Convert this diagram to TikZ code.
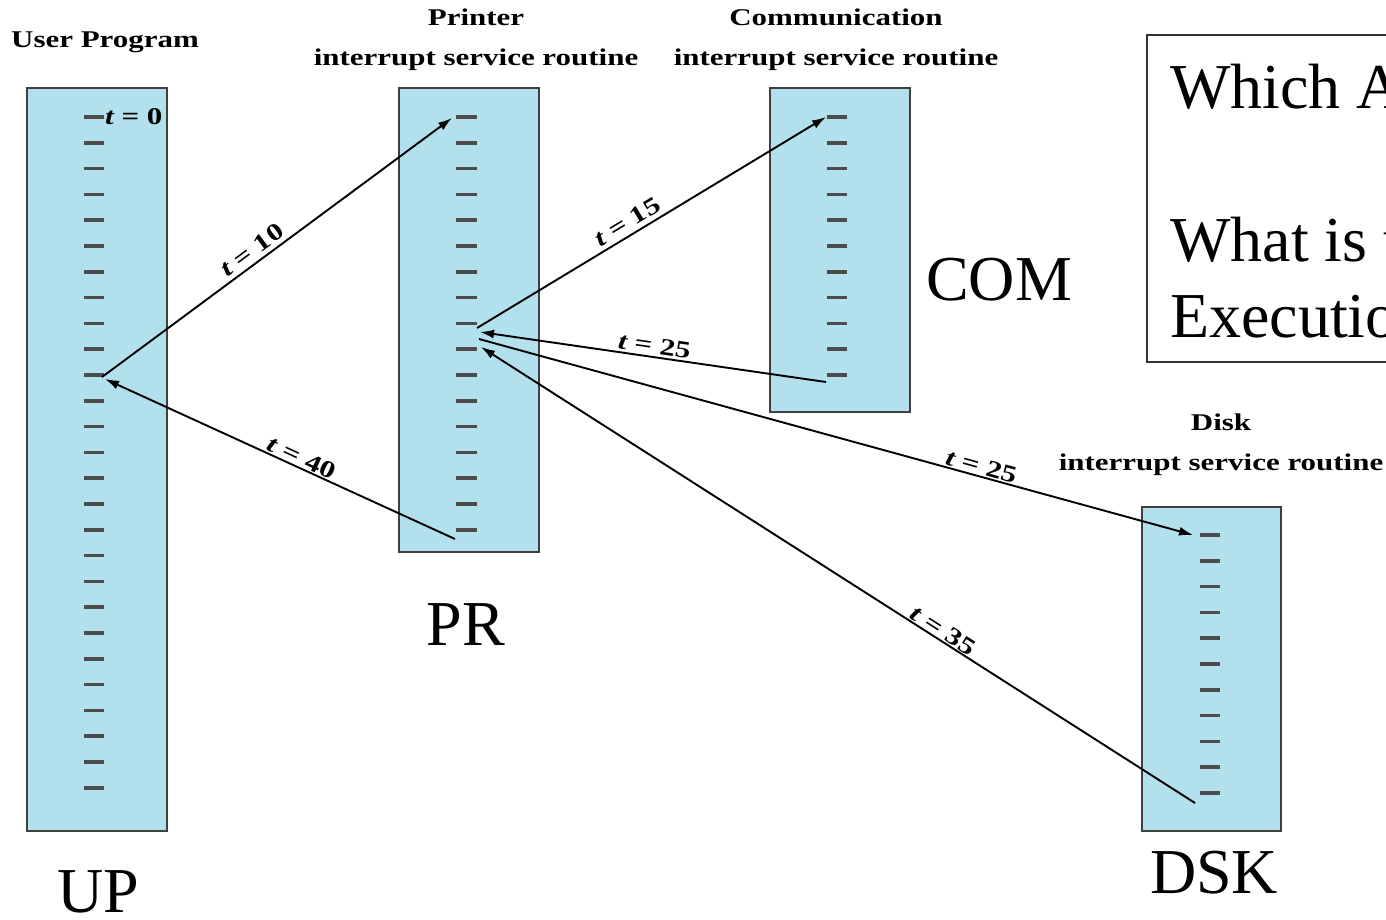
\documentclass[tikz,border=0pt]{standalone}
\usepackage{fontspec}
\setmainfont{Liberation Serif}
\newfontfamily\hdrfont[FakeStretch=1.29]{Liberation Serif}
\usetikzlibrary{arrows.meta}
\definecolor{boxblue}{RGB}{178,224,236}

\begin{document}
\begin{tikzpicture}[x=1pt,y=-1pt,
  routine/.style={draw=black!75, line width=1.8pt, fill=boxblue, anchor=north west,
    minimum width=140pt, inner sep=0, outer sep=0},
  tickmark/.style={draw=black!70, line width=3.5pt},
  flow/.style={line width=1.9pt, -{Latex[length=14pt,width=9pt]}},
  hdr/.style={font=\hdrfont\bfseries\fontsize{24}{40}\selectfont, align=center, inner sep=0},
  tlab/.style={font=\hdrfont\bfseries\fontsize{24}{26}\selectfont, sloped, above, inner sep=4pt},
  big/.style={font=\fontsize{64}{78}\selectfont, inner sep=0},
]
\useasboundingbox (0,0) rectangle (1386,919);

% the four routines
\node[routine, minimum height=743pt] (UP)  at (27,88)   {};
\node[routine, minimum height=464pt] (PR)  at (399,88)  {};
\node[routine, minimum height=324pt] (COM) at (770,88)  {};
\node[routine, minimum height=324pt, minimum width=139pt] (DSK) at (1142,507) {};

% instruction ticks
\foreach \i in {0,...,26}
  \draw[tickmark] (84,{117+25.8*\i}) -- (104,{117+25.8*\i});
\foreach \i in {0,...,16}
  \draw[tickmark] (456,{117+25.8*\i}) -- (477,{117+25.8*\i});
\foreach \i in {0,...,10}
  \draw[tickmark] (827,{117+25.8*\i}) -- (847,{117+25.8*\i});
\foreach \i in {0,...,10}
  \draw[tickmark] (1200,{535+25.8*\i}) -- (1220,{535+25.8*\i});

\node[hdr, anchor=west] (t0) at (105,117) {\itshape t\upshape{} = 0};

% headings
\node[hdr] (hUP)  at (105,42)  {User Program};
\node[hdr] (hPR)  at (476,40)  {Printer\\interrupt service routine};
\node[hdr] (hCOM) at (836,40)  {Communication\\interrupt service routine};
\node[hdr] (hDSK) at (1221,445) {Disk\\interrupt service routine};

% large names
\node[big, anchor=base] (nUP)  at (98,912)  {UP};
\node[big, anchor=base] (nPR)  at (466,645) {PR};
\node[big, anchor=base] (nCOM) at (999,300) {COM};
\node[big, anchor=base] (nDSK) at (1214,893) {DSK};

% question box
\draw[line width=1.2pt, draw=black!80] (1147,35) rectangle (1430,362);
\node[big, anchor=base west] (q1) at (1170,108) {Which A};
\node[big, anchor=base west] (q2) at (1170,261) {What is t};
\node[big, anchor=base west] (q3) at (1170,337) {Executio};

% transfer points
\coordinate (up-out) at (102,377);
\coordinate (up-in)  at (105,379);
\coordinate (pr-top) at (452,118);
\coordinate (pr-a)   at (477,328);
\coordinate (pr-b)   at (480,332);
\coordinate (pr-c)   at (479,339);
\coordinate (pr-d)   at (481,347);
\coordinate (pr-end) at (455,539);
\coordinate (com-top) at (826,117);
\coordinate (com-end) at (826,382);
\coordinate (dsk-top) at (1193,535);
\coordinate (dsk-end) at (1195,803);

% control transfers
\draw[flow] (up-out) -- node[tlab, pos=0.45] {\itshape t\upshape{} = 10} (pr-top);
\draw[flow] (pr-a) -- node[tlab, pos=0.45] {\itshape t\upshape{} = 15} (com-top);
\draw[flow] (com-end) -- node[tlab, pos=0.5, inner sep=2pt] {\itshape t\upshape{} = 25} (pr-b);
\draw[flow] (pr-c) -- node[tlab, pos=0.7, inner sep=1pt] {\itshape t\upshape{} = 25} (dsk-top);
\draw[flow] (dsk-end) -- node[tlab, pos=0.36, inner sep=1pt] {\itshape t\upshape{} = 35} (pr-d);
\draw[flow] (pr-end) -- node[tlab, pos=0.45, inner sep=1pt] {\itshape t\upshape{} = 40} (up-in);
\end{tikzpicture}
\end{document}
